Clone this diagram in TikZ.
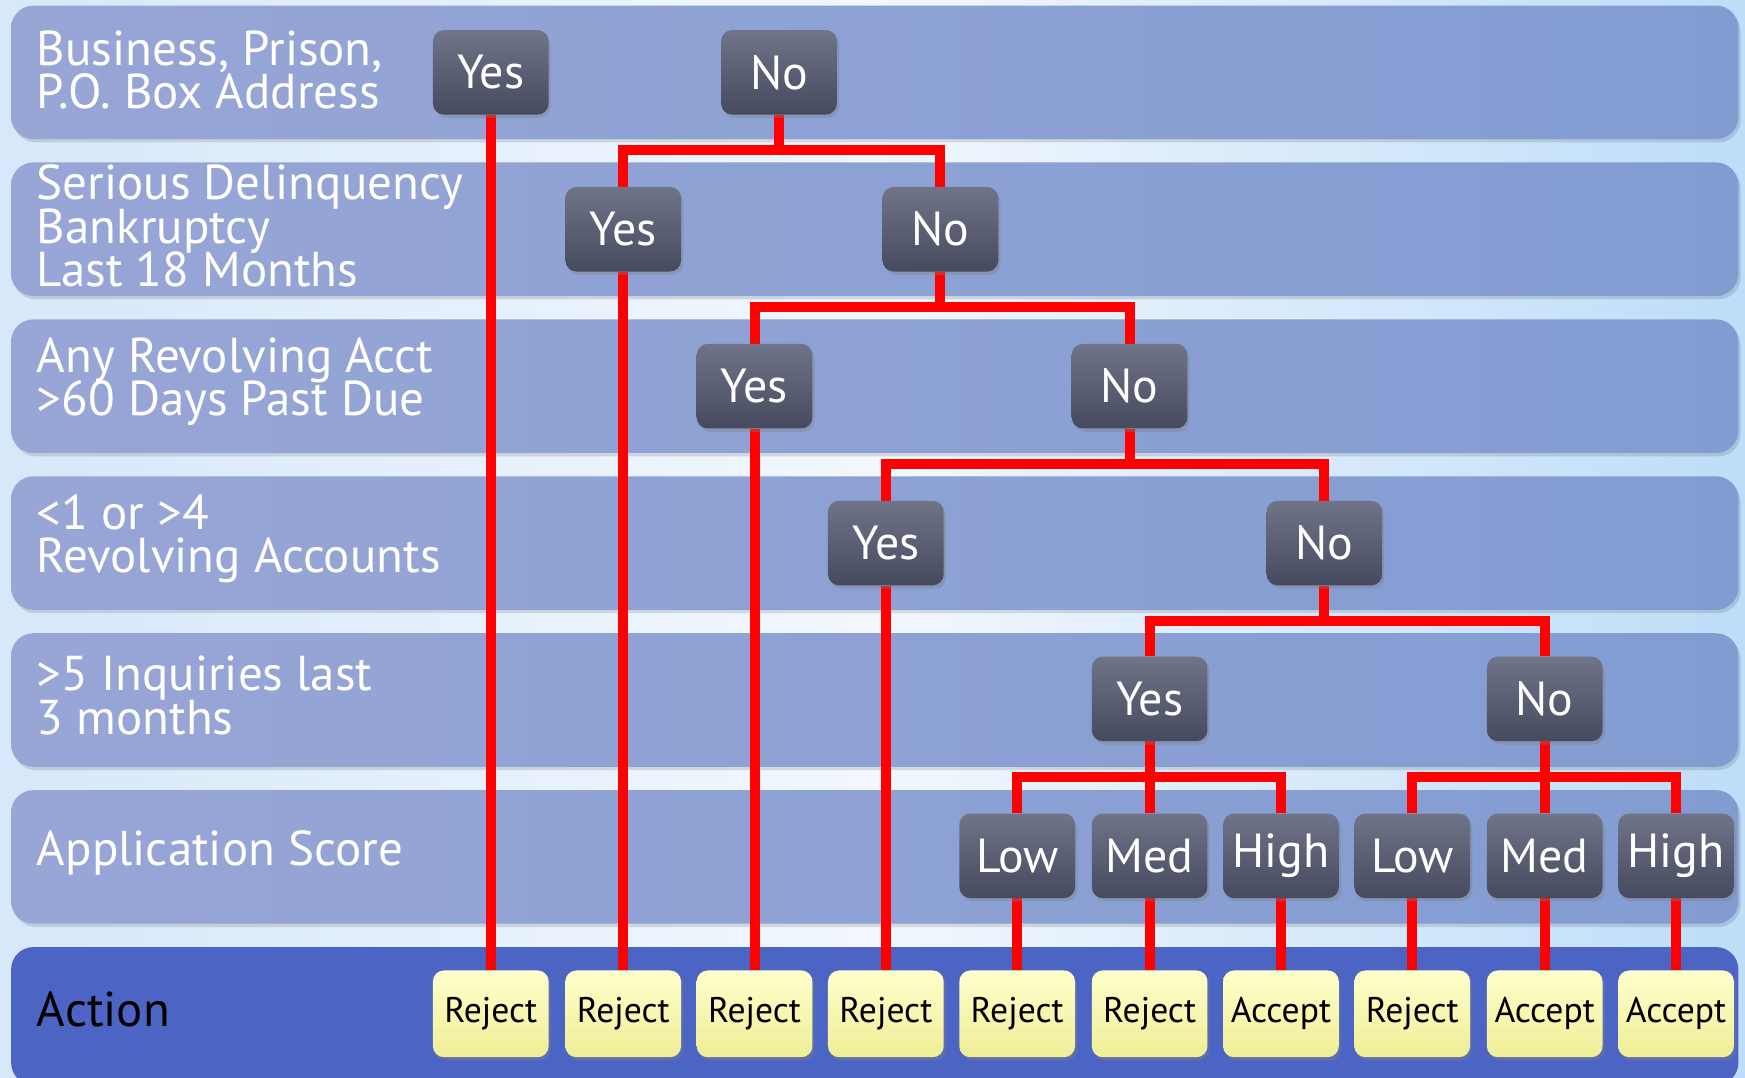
\documentclass[tikz,border=0pt]{standalone}
\usepackage{fontspec}
\setmainfont{PT Sans}
\usetikzlibrary{shadows,calc}
\pgfdeclarelayer{bg}
\pgfdeclarelayer{lines}
\pgfsetlayers{bg,lines,main}
\definecolor{bandL}{RGB}{152,166,214}
\definecolor{bandR}{RGB}{130,156,210}
\definecolor{actband}{RGB}{76,101,196}
\definecolor{nodetop}{RGB}{112,116,136}
\definecolor{nodebot}{RGB}{70,74,94}
\definecolor{yeltop}{RGB}{255,255,205}
\definecolor{yelbot}{RGB}{238,238,150}
\definecolor{bgL}{RGB}{215,232,250}
\definecolor{bgM}{RGB}{242,247,253}
\definecolor{bgR}{RGB}{190,221,248}
\newcommand\lblines[1]{\vbox{\lineskiplimit=-100pt\baselineskip=39pt\halign{##\hfil\cr#1\crcr}}}
\begin{document}
\begin{tikzpicture}[x=1pt,y=-1pt,
  dec/.style={rounded corners=10pt, minimum width=104pt, minimum height=76pt,
    top color=nodetop, bottom color=nodebot, text=white, inner sep=0pt,
    font=\fontsize{43}{43}\selectfont,
    drop shadow={shadow xshift=2pt, shadow yshift=-3pt, opacity=0.35}},
  act/.style={rounded corners=10pt, minimum width=104pt, minimum height=78pt,
    top color=yeltop, bottom color=yelbot, text=black, inner sep=0pt,
    font=\fontsize{32}{32}\selectfont,
    drop shadow={shadow xshift=2pt, shadow yshift=-3pt, opacity=0.35}},
  lbl/.style={anchor=west, text=white, inner sep=0pt,
    font=\fontsize{44}{39}\selectfont},
  band/.style={rounded corners=20pt, left color=bandL, right color=bandR},
  wire/.style={line width=9pt, red, line cap=butt, line join=miter}]
\useasboundingbox (0,0) rectangle (1568,968);
\begin{pgfonlayer}{bg}
  \shade[left color=bgL, right color=bgR, middle color=bgM] (0,0) rectangle (1568,968);
  \foreach \t in {5,146,287,428,569,710}{
    \fill[black, opacity=0.12, rounded corners=20pt] (12,\t+3) rectangle (1564,\t+123);
    \shade[band] (10,\t) rectangle (1562,\t+120);
  }
  \fill[actband, rounded corners=20pt] (10,851) rectangle (1562,975);
\end{pgfonlayer}

% labels
\node[lbl] (l1) at (33,63) {\lblines{Business, Prison,\cr P.O. Box Address}};
\node[lbl] (l2) at (33,203) {\lblines{Serious Delinquency\cr Bankruptcy\cr Last 18 Months}};
\node[lbl] (l3) at (33,343) {\lblines{Any Revolving Acct\cr >60 Days Past Due}};
\node[lbl] (l4) at (33,484) {\lblines{<1 or >4\cr Revolving Accounts}};
\node[lbl] (l5) at (33,625) {\lblines{>5 Inquiries last\cr 3 months}};
\node[lbl] (l6) at (33,766) {Application Score};
\node[lbl, text=black] (l7) at (33,907) {Action};

% decision nodes
\node[dec] (a1) at (441,65) {Yes};
\node[dec] (b1) at (700,65) {No};
\node[dec] (a2) at (560,206) {Yes};
\node[dec] (b2) at (845,206) {No};
\node[dec] (a3) at (678,347) {Yes};
\node[dec] (b3) at (1015,347) {No};
\node[dec] (a4) at (796,488) {Yes};
\node[dec] (b4) at (1190,488) {No};
\node[dec] (a5) at (1033,628) {Yes};
\node[dec] (b5) at (1388,628) {No};
\node[dec] (s1) at (914,769) {Low};
\node[dec] (s2) at (1033,769) {Med};
\node[dec] (s3) at (1151,769) {High};
\node[dec] (s4) at (1269,769) {Low};
\node[dec] (s5) at (1388,769) {Med};
\node[dec] (s6) at (1506,769) {High};

% actions
\node[act] (r1) at (441,911) {Reject};
\node[act] (r2) at (560,911) {Reject};
\node[act] (r3) at (678,911) {Reject};
\node[act] (r4) at (796,911) {Reject};
\node[act] (r5) at (914,911) {Reject};
\node[act] (r6) at (1033,911) {Reject};
\node[act] (r7) at (1151,911) {Accept};
\node[act] (r8) at (1269,911) {Reject};
\node[act] (r9) at (1388,911) {Accept};
\node[act] (r10) at (1506,911) {Accept};

\begin{pgfonlayer}{lines}
  \coordinate (j1) at ($(b1.south)+(0,32)$);
  \coordinate (j2) at ($(b2.south)+(0,32)$);
  \coordinate (j3) at ($(b3.south)+(0,32)$);
  \coordinate (j4) at ($(b4.south)+(0,32)$);
  \coordinate (j5) at ($(a5.south)+(0,32)$);
  \coordinate (j6) at ($(b5.south)+(0,32)$);
  \draw[wire] (b1.south) -- (j1);
  \draw[wire] (a2.north) |- (j1) -| (b2.north);
  \draw[wire] (b2.south) -- (j2);
  \draw[wire] (a3.north) |- (j2) -| (b3.north);
  \draw[wire] (b3.south) -- (j3);
  \draw[wire] (a4.north) |- (j3) -| (b4.north);
  \draw[wire] (b4.south) -- (j4);
  \draw[wire] (a5.north) |- (j4) -| (b5.north);
  \draw[wire] (a5.south) -- (s2.north);
  \draw[wire] (s1.north) |- (j5) -| (s3.north);
  \draw[wire] (b5.south) -- (s5.north);
  \draw[wire] (s4.north) |- (j6) -| (s6.north);
  \draw[wire] (a1.south) -- (r1.north);
  \draw[wire] (a2.south) -- (r2.north);
  \draw[wire] (a3.south) -- (r3.north);
  \draw[wire] (a4.south) -- (r4.north);
  \foreach \i/\j in {1/5,2/6,3/7,4/8,5/9,6/10}
    \draw[wire] (s\i.south) -- (r\j.north);
\end{pgfonlayer}
\end{tikzpicture}
\end{document}
